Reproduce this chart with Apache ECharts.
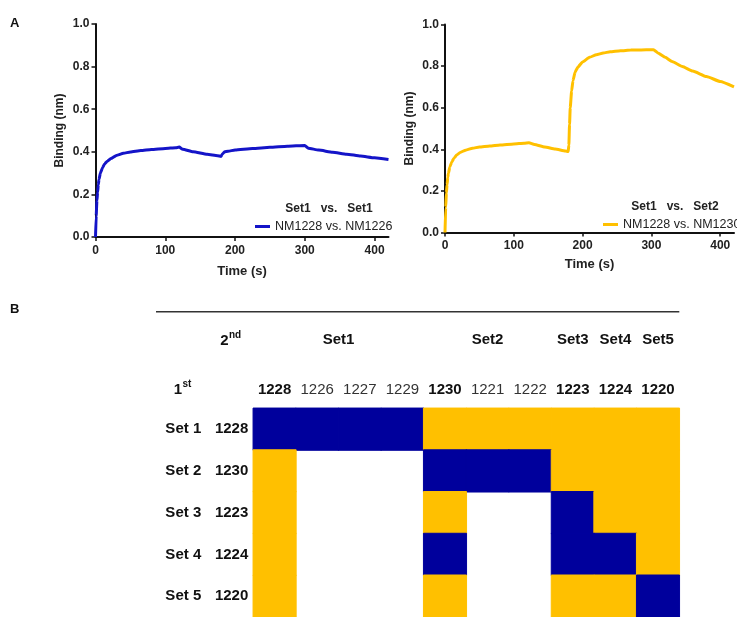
<!DOCTYPE html>
<html><head><meta charset="utf-8">
<script src="https://cdn.jsdelivr.net/npm/echarts@6/dist/echarts.min.js"></script>
<style>html,body{margin:0;padding:0;background:#fff}#c{width:737px;height:617px}</style>
</head><body><div id="c"></div><script>
// ---- Panel A data: [time (s), binding (nm)] ----
const blueCurve = [[0,0],[1,0.10],[2,0.17],[3,0.21],[4,0.245],[5,0.27],[7,0.30],[10,0.325],[13,0.343],[17,0.356],[22,0.368],[30,0.383],[40,0.393],[50,0.399],[65,0.406],[80,0.411],[100,0.416],[115,0.419],[120,0.422],[125,0.412],[140,0.400],[160,0.388],[175,0.382],[180,0.378],[182,0.390],[185,0.400],[190,0.403],[200,0.408],[225,0.415],[250,0.421],[275,0.426],[300,0.430],[305,0.417],[320,0.408],[340,0.398],[360,0.389],[380,0.380],[400,0.372],[420,0.364]];
const yellowCurve = [[0,0],[1,0.12],[2,0.19],[3,0.23],[4,0.265],[5,0.285],[7,0.315],[10,0.34],[13,0.357],[17,0.372],[22,0.385],[30,0.396],[40,0.405],[50,0.411],[65,0.416],[80,0.421],[100,0.426],[115,0.429],[122,0.431],[130,0.423],[145,0.411],[160,0.401],[175,0.392],[179,0.389],[180,0.42],[181,0.52],[182,0.60],[184,0.68],[186,0.73],[189,0.77],[193,0.795],[200,0.82],[210,0.842],[220,0.855],[230,0.863],[240,0.869],[255,0.874],[270,0.877],[285,0.878],[300,0.879],[303,0.879],[310,0.862],[320,0.842],[330,0.822],[345,0.798],[360,0.776],[380,0.75],[400,0.726],[420,0.70]];
const blueName = 'NM1228 vs. NM1226';
const yellowName = 'NM1228 vs. NM1230';
const blueTitle = 'Set1   vs.   Set1';
const yellowTitle = 'Set1   vs.   Set2';
const xTicks = [0,100,200,300,400];
const yTicks = [0,0.2,0.4,0.6,0.8,1.0];

// ---- Panel B data ----
const colIds = ['1228','1226','1227','1229','1230','1221','1222','1223','1224','1220'];
const rowSets = ['Set 1','Set 2','Set 3','Set 4','Set 5'];
const rowIds = ['1228','1230','1223','1224','1220'];
const groupNames = ['Set1','Set2','Set3','Set4','Set5'];
const groupSpans = [4,3,1,1,1];
// 0 = not tested, 1 = blue, 2 = yellow
const matrix = [
  [1,1,1,1,2,2,2,2,2,2],
  [2,0,0,0,1,1,1,2,2,2],
  [2,0,0,0,2,0,0,1,2,2],
  [2,0,0,0,1,0,0,1,1,2],
  [2,0,0,0,2,0,0,2,2,1]
];

const cellColors = ['#ffffff','#00009c','#ffc000'];
const F = "'Liberation Sans', Arial, sans-serif";
const FN = "'Liberation Sans Narrow', 'Arial Narrow', 'Liberation Sans', Arial, sans-serif";
const HS = 15;

const heatData = [];
matrix.forEach((row, r) => row.forEach((v, c) => {
  if (v > 0) heatData.push({value: [c, r, v], itemStyle: {color: cellColors[v], borderColor: cellColors[v], borderWidth: 1}});
}));

function valueAxisX(grid, gap, margin) {
  return {
    type: 'value', gridIndex: grid, min: 0, max: 420, interval: 100,
    name: 'Time (s)', nameLocation: 'middle', nameGap: gap,
    nameTextStyle: {fontFamily: F, fontWeight: 'bold', fontSize: 13, color: '#222'},
    axisLine: {show: true, onZero: false, lineStyle: {color: '#111', width: 2}},
    axisTick: {show: true, length: 4, lineStyle: {color: '#111', width: 1.5}, customValues: xTicks},
    axisLabel: {fontFamily: F, fontWeight: 'bold', fontSize: 12, color: '#222', margin: margin, customValues: xTicks},
    splitLine: {show: false}
  };
}
function valueAxisY(grid, gap) {
  return {
    type: 'value', gridIndex: grid, min: 0, max: 1, interval: 0.2,
    name: 'Binding (nm)', nameLocation: 'middle', nameGap: gap, nameRotate: 90,
    nameTextStyle: {fontFamily: F, fontWeight: 'bold', fontSize: 12, color: '#222'},
    axisLine: {show: true, lineStyle: {color: '#111', width: 2}},
    axisTick: {show: true, length: 4, lineStyle: {color: '#111', width: 1.5}},
    axisLabel: {fontFamily: F, fontWeight: 'bold', fontSize: 12, color: '#222', margin: 6, formatter: v => v.toFixed(1)},
    splitLine: {show: false}
  };
}

const chart = echarts.init(document.getElementById('c'), null, {renderer: 'canvas'});
chart.setOption({
  animation: false,
  backgroundColor: '#fff',
  grid: [
    {left: 95.5, top: 24, width: 293, height: 213},
    {left: 445, top: 24.5, width: 289, height: 208},
    {left: 253.3, top: 408.3, width: 426, height: 212.5}
  ],
  xAxis: [
    valueAxisX(0, 28, 8),
    valueAxisX(1, 25, 7),
    {
      type: 'category', gridIndex: 2, data: colIds, position: 'top',
      axisLine: {show: false}, axisTick: {show: false}, splitLine: {show: false},
      axisLabel: {
        interval: 0, margin: 11,
        formatter: v => rowIds.includes(v) ? '{b|' + v + '}' : '{r|' + v + '}',
        rich: {
          b: {fontFamily: FN, fontWeight: 'bold', fontSize: HS, color: '#111'},
          r: {fontFamily: FN, fontWeight: 'normal', fontSize: HS, color: '#333'}
        }
      }
    }
  ],
  yAxis: [
    valueAxisY(0, 30),
    valueAxisY(1, 29),
    {
      type: 'category', gridIndex: 2, data: rowIds, inverse: true,
      axisLine: {show: false}, axisTick: {show: false}, splitLine: {show: false},
      axisLabel: {
        interval: 0, margin: 5,
        formatter: (v, i) => '{s|' + rowSets[i] + '}{n|' + v + '}',
        rich: {
          s: {width: 50, align: 'center', fontFamily: FN, fontWeight: 'bold', fontSize: HS, color: '#111'},
          n: {width: 40, align: 'right', fontFamily: FN, fontWeight: 'bold', fontSize: HS, color: '#111'}
        }
      }
    }
  ],
  legend: [
    {data: [blueName], left: 250, top: 215, icon: 'rect', itemWidth: 15, itemHeight: 3, itemGap: 0,
     textStyle: {fontFamily: F, fontSize: 12.5, color: '#222'}, selectedMode: false},
    {data: [yellowName], left: 598, top: 213, icon: 'rect', itemWidth: 15, itemHeight: 3, itemGap: 0,
     textStyle: {fontFamily: F, fontSize: 12.5, color: '#222'}, selectedMode: false}
  ],
  series: [
    {name: blueName, type: 'line', xAxisIndex: 0, yAxisIndex: 0, data: blueCurve, showSymbol: false,
     smooth: 0.15, smoothMonotone: 'x', lineStyle: {color: '#1414c8', width: 3}, itemStyle: {color: '#1414c8'}},
    {name: yellowName, type: 'line', xAxisIndex: 1, yAxisIndex: 1, data: yellowCurve, showSymbol: false,
     smooth: 0.15, smoothMonotone: 'x', lineStyle: {color: '#ffc000', width: 3}, itemStyle: {color: '#ffc000'}},
    {type: 'heatmap', xAxisIndex: 2, yAxisIndex: 2, data: heatData}
  ]
});

// Headers placed relative to heatmap columns
const graphics = [
  {type: 'text', left: 10, top: 17, style: {text: 'A', fontFamily: F, fontWeight: 'bold', fontSize: 13, fill: '#111'}},
  {type: 'text', left: 10, top: 303, style: {text: 'B', fontFamily: F, fontWeight: 'bold', fontSize: 13, fill: '#111'}},
  {type: 'text', x: 329, y: 209, style: {text: blueTitle, fontFamily: F, fontWeight: 'bold', fontSize: 12, fill: '#222', align: 'center', verticalAlign: 'middle'}},
  {type: 'text', x: 675, y: 207, style: {text: yellowTitle, fontFamily: F, fontWeight: 'bold', fontSize: 12, fill: '#222', align: 'center', verticalAlign: 'middle'}},
  {type: 'line', shape: {x1: 156, y1: 311.7, x2: 679.3, y2: 311.7}, style: {stroke: '#333', lineWidth: 1.5}},
  {type: 'text', x: 228.5, y: 341, style: {text: '2', fontFamily: FN, fontWeight: 'bold', fontSize: HS, fill: '#111', align: 'right', verticalAlign: 'middle'}},
  {type: 'text', x: 229, y: 335, style: {text: 'nd', fontFamily: FN, fontWeight: 'bold', fontSize: 10, fill: '#111', align: 'left', verticalAlign: 'middle'}},
  {type: 'text', x: 182, y: 389.5, style: {text: '1', fontFamily: FN, fontWeight: 'bold', fontSize: HS, fill: '#111', align: 'right', verticalAlign: 'middle'}},
  {type: 'text', x: 182.5, y: 384, style: {text: 'st', fontFamily: FN, fontWeight: 'bold', fontSize: 10, fill: '#111', align: 'left', verticalAlign: 'middle'}}
];
let start = 0;
groupNames.forEach((g, i) => {
  const a = chart.convertToPixel({xAxisIndex: 2}, start);
  const b = chart.convertToPixel({xAxisIndex: 2}, start + groupSpans[i] - 1);
  graphics.push({type: 'text', x: (a + b) / 2, y: 340, style: {text: g, fontFamily: FN, fontWeight: 'bold', fontSize: HS, fill: '#111', align: 'center', verticalAlign: 'middle'}});
  start += groupSpans[i];
});
chart.setOption({graphic: graphics});
</script></body></html>
